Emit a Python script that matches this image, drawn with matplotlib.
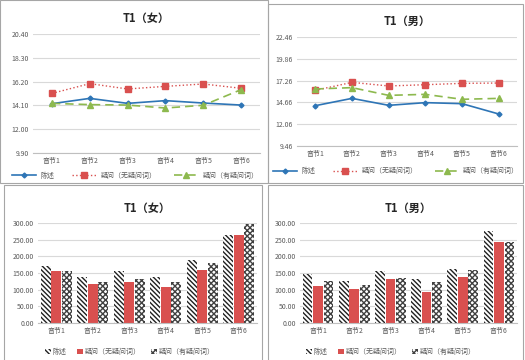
import matplotlib
matplotlib.use("Agg")
import matplotlib.pyplot as plt
from matplotlib.patches import Rectangle
from matplotlib.ticker import FormatStrFormatter
import numpy as np

plt.rcParams['font.family'] = ['Noto Sans CJK SC', 'DejaVu Sans']
plt.rcParams['hatch.linewidth'] = 1.0

# data
categories = ['音节1', '音节2', '音节3', '音节4', '音节5', '音节6']
series_names = ['陈述', '疑问（无疑问词）', '疑问（有疑问词）']

# line charts (top)
f_chenshu = [14.25, 14.72, 14.28, 14.52, 14.31, 14.13]
f_wu = [15.16, 16.02, 15.55, 15.78, 15.99, 15.61]
f_you = [14.28, 14.17, 14.13, 13.87, 14.11, 15.49]
f_ticks = [9.90, 12.00, 14.10, 16.20, 18.30, 20.40]

m_chenshu = [14.27, 15.14, 14.31, 14.63, 14.51, 13.28]
m_wu = [16.10, 17.05, 16.62, 16.77, 16.93, 16.97]
m_you = [16.26, 16.42, 15.50, 15.62, 15.03, 15.14]
m_ticks = [9.46, 12.06, 14.66, 17.26, 19.86, 22.46]

# bar charts (bottom)
fb_chenshu = [170, 139, 155, 138, 189, 264]
fb_wu = [157, 118, 123, 109, 160, 265]
fb_you = [156, 124, 131, 122, 181, 297]

mb_chenshu = [147, 127, 155, 131, 163, 276]
mb_wu = [111, 103, 132, 92, 138, 242]
mb_you = [126, 113, 135, 122, 160, 244]
bar_ticks = [0, 50, 100, 150, 200, 250, 300]

blue = '#2E75B6'
red = '#D9504F'
green = '#8DB94E'
grid_c = '#D9D9D9'
text_c = '#595959'

fig = plt.figure(figsize=(5.25, 3.6), dpi=100)


def style_axes(ax, ticks, fmt):
    ax.set_ylim(ticks[0], ticks[-1])
    ax.set_yticks(ticks)
    ax.yaxis.set_major_formatter(FormatStrFormatter(fmt))
    ax.grid(axis='y', color=grid_c, linewidth=0.8)
    ax.set_axisbelow(True)
    for s in ['left', 'right', 'top']:
        ax.spines[s].set_visible(False)
    ax.spines['bottom'].set_color('#BFBFBF')
    ax.tick_params(axis='both', length=0, labelsize=5, colors=text_c, pad=3)
    ax.set_xticks(range(len(categories)))
    ax.set_xticklabels(categories)
    ax.set_xlim(-0.5, len(categories) - 0.5)


def line_chart(rect, title, a, b, c, ticks, legend_y):
    ax = fig.add_axes(rect)
    x = np.arange(len(categories))
    ax.plot(x, a, color=blue, lw=1.2, marker='D', ms=2.5, label=series_names[0])
    ax.plot(x, b, color=red, lw=1.0, ls=':', marker='s', ms=4, label=series_names[1])
    ax.plot(x, c, color=green, lw=1.2, ls=(0, (5, 3)), marker='^', ms=4, label=series_names[2])
    style_axes(ax, ticks, '%.2f')
    ax.set_title(title, fontsize=8, fontweight='bold', color='#262626', pad=9)
    ax.legend(loc='center', bbox_to_anchor=(0.45, legend_y), ncol=3, frameon=False,
              fontsize=5, labelcolor=text_c, handlelength=3.5, columnspacing=2.5,
              handletextpad=0.6)
    return ax


def bar_chart(rect, title, a, b, c):
    ax = fig.add_axes(rect)
    x = np.arange(len(categories))
    w = 0.27
    ax.bar(x - 0.29, a, w, color='white', edgecolor='#202020', hatch='\\\\\\\\\\\\\\',
           linewidth=0, label=series_names[0])
    ax.bar(x, b, w, color=red, linewidth=0, label=series_names[1])
    ax.bar(x + 0.29, c, w, color='white', edgecolor='#404040', hatch='xxxxxx',
           linewidth=0, label=series_names[2])
    style_axes(ax, bar_ticks, '%.2f')
    ax.set_title(title, fontsize=8, fontweight='bold', color='#262626', pad=8)
    ax.legend(loc='center', bbox_to_anchor=(0.42, -0.29), ncol=3, frameon=False,
              fontsize=5, labelcolor=text_c, handlelength=0.8, handleheight=0.8,
              columnspacing=1.5, handletextpad=0.3)
    return ax


line_chart([33 / 525, 1 - 153 / 360, 227 / 525, 119 / 360], 'T1（女）',
           f_chenshu, f_wu, f_you, f_ticks, -0.19)
line_chart([297 / 525, 1 - 146 / 360, 220 / 525, 109 / 360], 'T1（男）',
           m_chenshu, m_wu, m_you, m_ticks, -0.23)
bar_chart([38 / 525, 1 - 323 / 360, 219 / 525, 100 / 360], 'T1（女）',
          fb_chenshu, fb_wu, fb_you)
bar_chart([300 / 525, 1 - 323 / 360, 217 / 525, 100 / 360], 'T1（男）',
          mb_chenshu, mb_wu, mb_you)

# panel borders
def frame(x0, y0, x1, y1):
    fig.add_artist(Rectangle((x0 / 525, 1 - y1 / 360), (x1 - x0) / 525, (y1 - y0) / 360,
                             transform=fig.transFigure, fill=False,
                             edgecolor='#A6A6A6', linewidth=0.8))

frame(268, 4, 523, 183)
frame(0, 0, 268, 183)
frame(4, 185, 262, 362)
frame(268, 185, 523, 362)

fig.savefig('out.png', dpi=100)
